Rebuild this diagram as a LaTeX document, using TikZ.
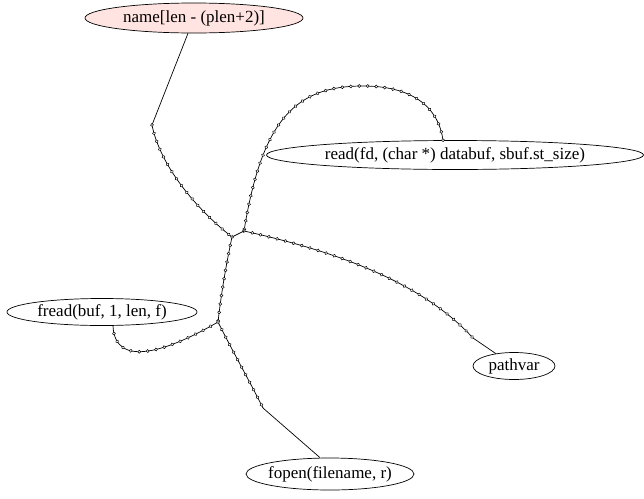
\documentclass[tikz,border=0pt]{standalone}
\usepackage{fontspec}
\setmainfont{Liberation Serif}
\usetikzlibrary{shapes.geometric, decorations.markings, calc}

\definecolor{rosefill}{HTML}{FFE4E1}

% text box of zero width, so that the ellipse keeps its given size
\newcommand{\calltext}[1]{\makebox[0pt]{#1}}

\tikzset{
    call/.style={draw, ellipse, inner sep=0pt, line width=0.7pt,
        font=\fontsize{17}{19}\selectfont},
    plain/.style={line width=0.7pt},
    chain/.style={line width=0.7pt, postaction={decorate},
        decoration={markings,
            mark=between positions 0 and 1 step 8.5pt with
                {\draw[fill=white, line width=0.5pt] (0,0) circle (1.5pt);}}}
}

\begin{document}
\begin{tikzpicture}[x=1pt, y=-1pt]
    \useasboundingbox (0,0) rectangle (644,498);

    % ============================================================
    % CALL SITES
    % ============================================================
    \node[call, fill=rosefill, minimum width=218, minimum height=30]
        (name) at (194,18) {\calltext{name[len - (plen+2)]}};
    \node[call, minimum width=377, minimum height=29]
        (read) at (455,155) {\calltext{read(fd, (char *) databuf, sbuf.st\_size)}};
    \node[call, minimum width=190, minimum height=27]
        (fread) at (102,312) {\calltext{fread(buf, 1, len, f)}};
    \node[call, minimum width=82, minimum height=27]
        (pathvar) at (514,366) {\calltext{pathvar}};
    \node[call, minimum width=168, minimum height=32]
        (fopen) at (330,474) {\calltext{fopen(filename, r)}};

    % ============================================================
    % JUNCTIONS AND BENDS
    % ============================================================
    \coordinate (top) at (152,125);
    \coordinate (arc) at (363,86);
    \coordinate (j1) at (244,231);
    \coordinate (j2) at (232,237);
    \coordinate (j3) at (218,322);
    \coordinate (pv) at (473,338);
    \coordinate (fo) at (263,408);

    % ============================================================
    % EDGES
    % ============================================================
    \draw[plain] (name) -- (top);
    \draw[chain] (top) .. controls (160,165) and (195,208) .. (j2);

    \draw[chain] ([xshift=-12pt]read.north)
        .. controls (438,105) and (410,86) .. (arc)
        .. controls (295,86) and (262,120) .. (j1);

    \draw[chain] (j1) .. controls (330,250) and (420,280) .. (pv);
    \draw[plain] (pv) -- (pathvar);

    \draw[plain] (j1) -- (j2);
    \draw[chain] (j2) .. controls (226,265) and (221,295) .. (j3);

    \draw[chain] (j3) .. controls (170,350) and (115,370)
        .. ([xshift=11pt]fread.south);

    \draw[chain] (j3) .. controls (232,350) and (250,382) .. (fo);
    \draw[plain] (fo) -- ([xshift=-10pt]fopen.north);

\end{tikzpicture}
\end{document}
